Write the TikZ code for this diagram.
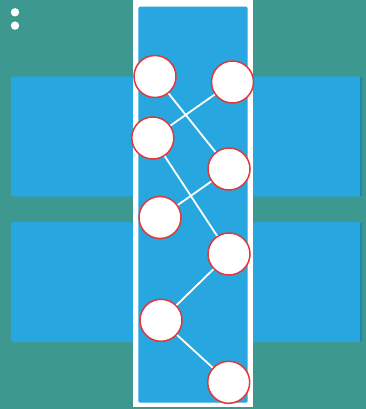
\documentclass[tikz,border=0pt]{standalone}
\usepackage{xcolor}
\usepackage{tikz}
\usetikzlibrary{
  positioning,
  calc,
}

\definecolor{bgteal}{HTML}{3D9990}
\definecolor{panelblue}{HTML}{27A6DF}
\definecolor{edgeblue}{HTML}{1E86B5}
\definecolor{ringred}{HTML}{E0393A}

\begin{document}
\begin{tikzpicture}[
  x=1pt, y=-1pt,
  vertex/.style={circle, fill=white, draw=ringred, line width=1.5pt,
    minimum size=42pt, inner sep=0pt},
  link/.style={white, line width=1.8pt},
]

% backdrop
\fill[bgteal] (0,0) rectangle (366,409);
\useasboundingbox (0,0) rectangle (366,409);

% menu dots
\fill[white] (15,12.3) circle (4.2);
\fill[white] (15,25.6) circle (4.2);

% wide bands
\fill[panelblue, rounded corners=2pt] (11,76.5) rectangle (361,196.5);
\fill[panelblue, rounded corners=2pt] (11,222) rectangle (361,342);
\fill[edgeblue] (360,77.5) rectangle (361.5,195.5);
\fill[edgeblue] (360,223) rectangle (361.5,341);

% column
\fill[white] (133,0) rectangle (253,407);
\fill[panelblue, rounded corners=2pt] (138.3,6.7) rectangle (247.7,402.7);

% vertices
\node[vertex] (v1) at (155,76.5) {};
\node[vertex] (v2) at (232.5,82) {};
\node[vertex] (v3) at (152.8,138) {};
\node[vertex] (v4) at (229,169) {};
\node[vertex] (v5) at (160,217.5) {};
\node[vertex] (v6) at (229,254) {};
\node[vertex] (v7) at (161,320.3) {};
\node[vertex] (v8) at (228.7,382.3) {};

% links
\draw[link] (v1) -- (v4);
\draw[link] (v2) -- (v3);
\draw[link] (v3) -- (v6);
\draw[link] (v4) -- (v5);
\draw[link] (v6) -- (v7);
\draw[link] (v7) -- (v8);

\end{tikzpicture}
\end{document}
